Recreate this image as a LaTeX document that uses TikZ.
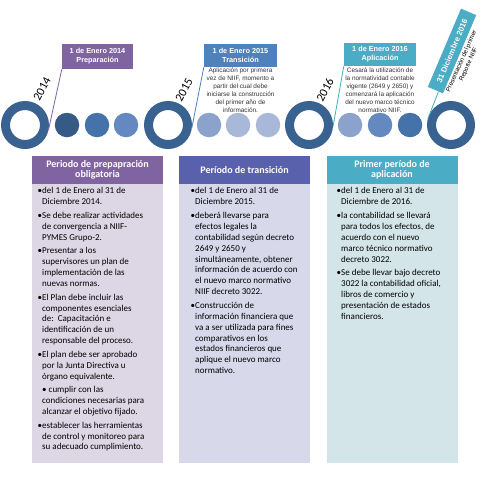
\documentclass[tikz,border=0pt]{standalone}
\usepackage{fontspec}
\setmainfont{Carlito}
\newfontfamily\arialf{Liberation Sans}
\usetikzlibrary{calc}
\definecolor{ringblue}{HTML}{3A6291}
\definecolor{dotA}{HTML}{365A86}
\definecolor{dotB}{HTML}{4572A8}
\definecolor{dotC}{HTML}{6389C0}
\definecolor{dotD}{HTML}{8AA2CC}
\definecolor{dotE}{HTML}{A8B8D9}
\definecolor{cpurple}{HTML}{8064A2}
\definecolor{cblue}{HTML}{4F81BD}
\definecolor{cteal}{HTML}{4BACC6}
\definecolor{hindigo}{HTML}{5A61AC}
\definecolor{bpurple}{HTML}{DDD7E5}
\definecolor{bindigo}{HTML}{D7D9EB}
\definecolor{bteal}{HTML}{D4E5EA}
\definecolor{descgray}{HTML}{333333}
\begin{document}
\begin{tikzpicture}[x=1pt,y=-1pt,
  ring/.style={circle, draw=ringblue, line width=9pt, minimum size=39pt, inner sep=0pt, fill=white},
  dot/.style={circle, minimum size=24.5pt, inner sep=0pt},
  callout/.style={text=white, font=\arialf\bfseries\fontsize{7.3}{9}\selectfont, align=center, inner sep=0pt},
  desc/.style={font=\arialf\fontsize{6.4}{8}\selectfont, text=descgray, align=center, inner sep=0pt},
  year/.style={font=\fontsize{12}{12}\selectfont, rotate=62, inner sep=0pt},
  head/.style={text=white, font=\bfseries\fontsize{10}{10.5}\selectfont, align=center, minimum width=131pt, minimum height=28pt, inner sep=0pt},
  body/.style={minimum width=131pt, minimum height=279pt, inner sep=0pt},
  btext/.style={font=\fontsize{9}{10.9}\selectfont, align=left, inner sep=0pt, anchor=north west},
  link/.style={line width=0.8pt}
]
\useasboundingbox (0,0) rectangle (502,480);
\fill[white] (0,0) rectangle (502,480);

% timeline
\node[ring] (r14) at (25,125) {};
\node[dot, fill=dotA] (d1) at (67,125) {};
\node[dot, fill=dotB] (d2) at (97,125) {};
\node[dot, fill=dotC] (d3) at (126,125) {};
\node[ring] (r15) at (168,125) {};
\node[dot, fill=dotD] (d4) at (209,125) {};
\node[dot, fill=dotE] (d5) at (238,125) {};
\node[dot, fill=dotE] (d6) at (268,125) {};
\node[ring] (r16) at (309,125) {};
\node[dot, fill=dotD] (d7) at (350,125) {};
\node[dot, fill=dotC] (d8) at (380,125) {};
\node[dot, fill=dotB] (d9) at (410,125) {};
\node[ring] (r17) at (451,125) {};

% years
\node[year] (y14) at (42,89) {2014};
\node[year] (y15) at (184,90) {2015};
\node[year] (y16) at (325,90) {2016};

% callouts
\node[callout, fill=cpurple, minimum width=71pt, minimum height=25pt] (c14) at (97.5,56.5) {1 de Enero 2014\\Preparación};
\node[callout, fill=cblue, minimum width=73pt, minimum height=23pt] (c15) at (240.5,55.5) {1 de Enero 2015\\Transición};
\node[callout, fill=cteal, minimum width=72pt, minimum height=23pt] (c16) at (380,54.5) {1 de Enero 2016\\Aplicación};
\node[callout, fill=cteal, minimum width=85pt, minimum height=16.5pt, rotate=67, font=\arialf\bfseries\fontsize{7.8}{9}\selectfont] (c17) at (452,51) {31 Diciembre 2016};

\node[desc, anchor=north] (t15) at (240.5,67.5) {Aplicación por primera\\vez de NIIF, momento a\\partir del cual debe\\iniciarse la construcción\\del primer año de\\información.};
\node[desc, anchor=north] (t16) at (380,67.5) {Cesará la utilización de\\la normatividad contable\\vigente (2649 y 2650) y\\comenzará la aplicación\\del nuevo marco técnico\\normativo NIIF.};
\node[desc, rotate=66, text=black, font=\arialf\fontsize{6.3}{7.6}\selectfont] (t17) at (465,63) {Presentación del primer\\Reporte NIIF};

\draw[link, cpurple] (c14.south west) -- (r14.-12);
\draw[link, cblue] (c15.south west) -- (r15.-7);
\draw[link, cteal] (c16.south west) -- (r16.-5);
\draw[link, cteal] ($(c17.south west)!0.3!(c17.north west)$) -- (r17.165);

% panels
\node[head, fill=cpurple] (h1) at (97.5,170) {Periodo de prepapración\\obligatoria};
\node[body, fill=bpurple] (b1) at (97.5,323.5) {};
\node[head, fill=hindigo] (h2) at (244.5,170) {Período de transición};
\node[body, fill=bindigo] (b2) at (244.5,323.5) {};
\node[head, fill=cteal] (h3) at (392,170) {Primer período de\\aplicación};
\node[body, fill=bteal] (b3) at (392,323.5) {};

\node[btext] (p1) at (42,187.5) {%
\llap{•}del 1 de Enero al 31 de\\Diciembre 2014.\\[2.7pt]
\llap{•}Se debe realizar actividades\\de convergencia a NIIF-\\PYMES Grupo-2.\\[2.7pt]
\llap{•}Presentar a los\\supervisores un plan de\\implementación de las\\nuevas normas.\\[2.7pt]
\llap{•}El Plan debe incluir las\\componentes esenciales\\de:\ \ Capacitación e\\identificación de un\\responsable del proceso.\\[2.7pt]
\llap{•}El plan debe ser aprobado\\por la Junta Directiva u\\órgano equivalente.\\[2.7pt]
• cumplir con las\\condiciones necesarias para\\alcanzar el objetivo fijado.\\[2.7pt]
\llap{•}establecer las herramientas\\de control y monitoreo para\\su adecuado cumplimiento.};

\node[btext] (p2) at (195,187.5) {%
\llap{•}del 1 de Enero al 31 de\\Diciembre 2015.\\[2.7pt]
\llap{•}deberá llevarse para\\efectos legales la\\contabilidad según decreto\\2649 y 2650 y\\simultáneamente, obtener\\información de acuerdo con\\el nuevo marco normativo\\NIIF decreto 3022.\\[2.7pt]
\llap{•}Construcción de\\información financiera que\\va a ser utilizada para fines\\comparativos en los\\estados financieros que\\aplique el nuevo marco\\normativo.};

\node[btext] (p3) at (341,187.5) {%
\llap{•}del 1 de Enero al 31 de\\Diciembre de 2016.\\[2.7pt]
\llap{•}la contabilidad se llevará\\para todos los efectos, de\\acuerdo con el nuevo\\marco técnico normativo\\decreto 3022.\\[2.7pt]
\llap{•}Se debe llevar bajo decreto\\3022 la contabilidad oficial,\\libros de comercio y\\presentación de estados\\financieros.};
\end{tikzpicture}
\end{document}
